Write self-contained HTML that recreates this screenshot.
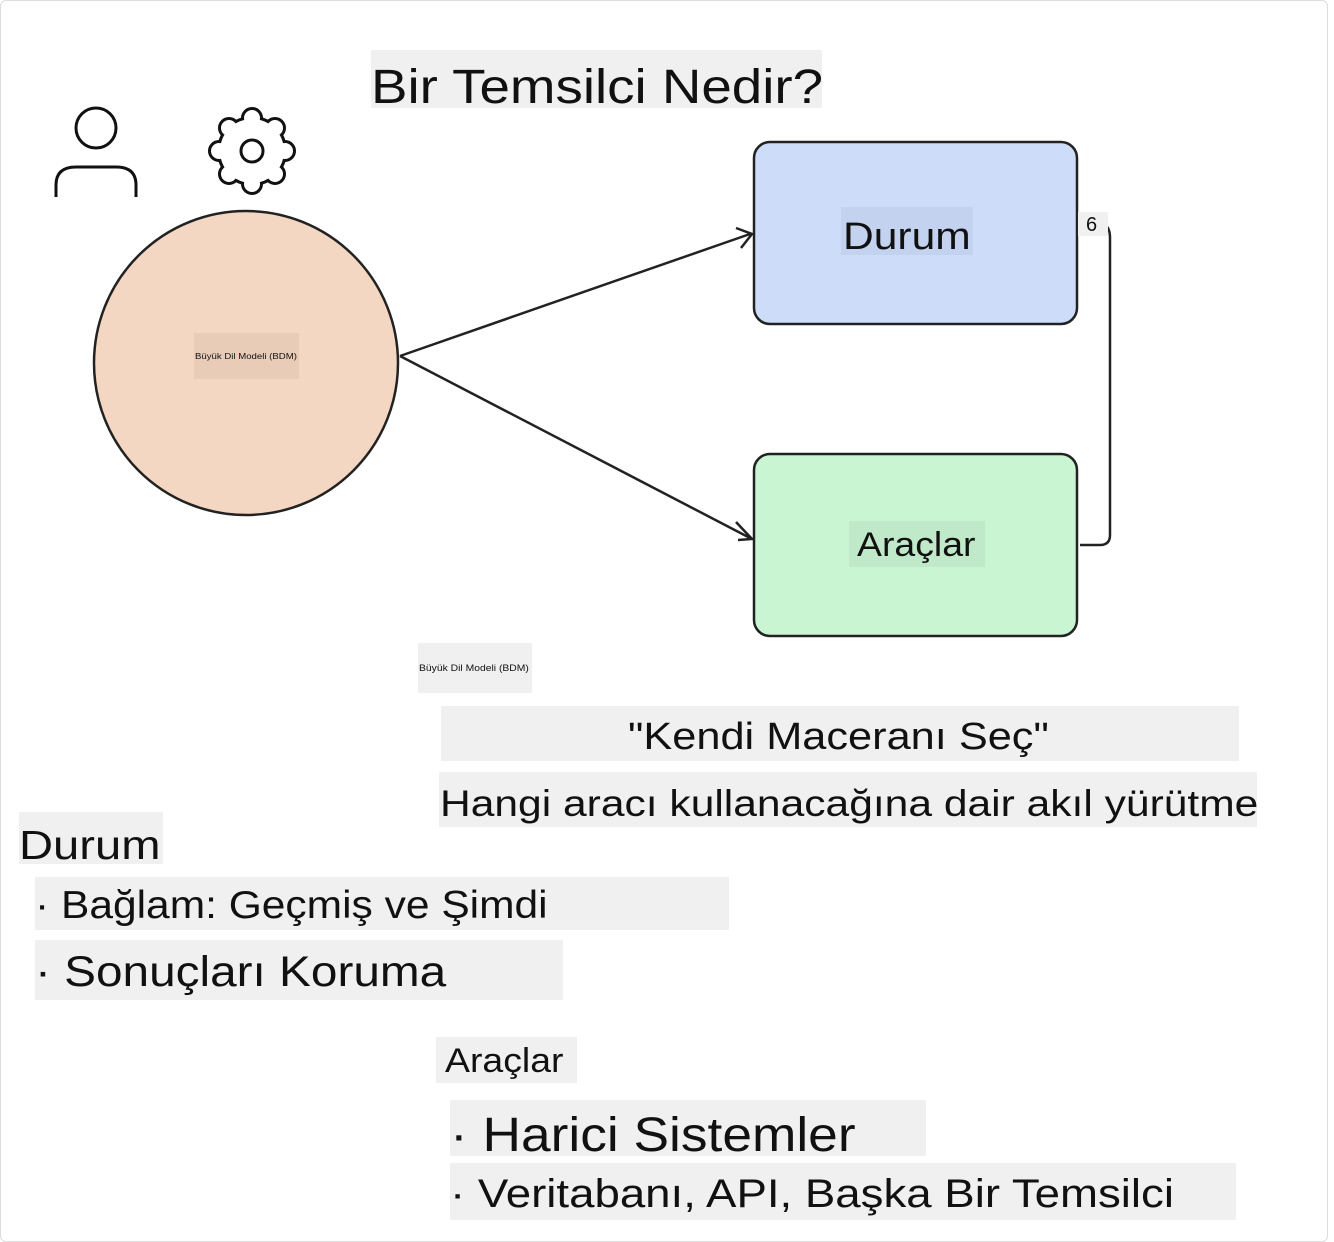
<!DOCTYPE html>
<html><head><meta charset="utf-8"><style>
body{margin:0;width:1334px;height:1242px;background:#fff;position:relative;overflow:hidden;font-family:"Liberation Sans","DejaVu Sans",sans-serif;color:#111}
.t{position:absolute;white-space:nowrap;background:#f0f0f0;line-height:1}
.t span{display:inline-block;transform-origin:0 0}
</style></head><body>
<div style="position:absolute;left:0;top:0;width:1326px;height:1240px;border:1px solid #ddd;border-radius:6px"></div>
<svg width="1334" height="1242" style="position:absolute;left:0;top:0">
<g fill="none" stroke="#111" stroke-width="3">
<circle cx="96" cy="128" r="20"/>
<path d="M56 197 V185 Q56 167 76 167 H116 Q136 167 136 185 V197"/>
</g>
<g stroke="#111" stroke-width="6" fill="#111">
<circle cx="252" cy="151" r="32"/>
<circle cx="252" cy="118" r="8"/><circle cx="252" cy="184" r="8"/>
<circle cx="219" cy="151" r="8"/><circle cx="285" cy="151" r="8"/>
<circle cx="229" cy="128" r="8"/><circle cx="275" cy="128" r="8"/>
<circle cx="229" cy="174" r="8"/><circle cx="275" cy="174" r="8"/>
</g>
<g fill="#fff">
<circle cx="252" cy="151" r="32"/>
<circle cx="252" cy="118" r="8"/><circle cx="252" cy="184" r="8"/>
<circle cx="219" cy="151" r="8"/><circle cx="285" cy="151" r="8"/>
<circle cx="229" cy="128" r="8"/><circle cx="275" cy="128" r="8"/>
<circle cx="229" cy="174" r="8"/><circle cx="275" cy="174" r="8"/>
</g>
<circle cx="252" cy="151" r="11" fill="none" stroke="#111" stroke-width="3"/>
<circle cx="246" cy="363" r="152" fill="#f4d7c2" stroke="#222" stroke-width="2.5"/>
<rect x="754" y="142" width="323" height="182" rx="16" fill="#ccdcf9" stroke="#222" stroke-width="2.5"/>
<rect x="754" y="454" width="323" height="182" rx="16" fill="#c9f5d3" stroke="#222" stroke-width="2.5"/>
<g fill="none" stroke="#222" stroke-width="2.5">
<path d="M400 356 L750 234 M736 228 L752 234 L741 248"/>
<path d="M400 356 L752 539 M736 522 L752 539 L738 540"/>
<path d="M1080 545 H1100 Q1110 545 1110 535 V238 Q1110 228 1105 225"/>
</g>
</svg>
<div class="t" style="left:371px;top:50px;width:451px;height:58px;font-size:48px;padding-top:14px;box-sizing:border-box"><span style="transform:scaleX(1.14)">Bir Temsilci Nedir?</span></div>
<div class="t" style="left:841px;top:207px;width:132px;height:48px;font-size:38px;padding:11px 0 0 2px;box-sizing:border-box;background:#c3d2ee"><span style="transform:scaleX(1.12)">Durum</span></div>
<div class="t" style="left:1078px;top:212px;width:30px;height:24px;font-size:20px;padding:3px 0 0 8px;box-sizing:border-box"><span>6</span></div>
<div class="t" style="left:849px;top:521px;width:136px;height:46px;font-size:34px;padding:7px 0 0 8px;box-sizing:border-box;background:#bfe9c8"><span style="transform:scaleX(1.1)">Araçlar</span></div>
<div class="t" style="left:194px;top:333px;width:105px;height:46px;font-size:8px;padding:20px 0 0 1px;box-sizing:border-box;background:#e8ccb8"><span style="transform:scaleX(1.2)">Büyük Dil Modeli (BDM)</span></div>
<div class="t" style="left:418px;top:643px;width:114px;height:50px;font-size:9px;padding:21px 0 0 1px;box-sizing:border-box"><span style="transform:scaleX(1.15)">Büyük Dil Modeli (BDM)</span></div>
<div class="t" style="left:441px;top:706px;width:798px;height:55px;font-size:38px;padding:12px 0 0 187px;box-sizing:border-box"><span style="transform:scaleX(1.14)">"Kendi Maceranı Seç"</span></div>
<div class="t" style="left:439px;top:772px;width:818px;height:55px;font-size:37px;padding:13px 0 0 1px;box-sizing:border-box"><span style="transform:scaleX(1.15)">Hangi aracı kullanacağına dair akıl yürütme</span></div>
<div class="t" style="left:19px;top:812px;width:144px;height:52px;font-size:41px;padding:13px 0 0 0;box-sizing:border-box"><span style="transform:scaleX(1.15)">Durum</span></div>
<div class="t" style="left:35px;top:877px;width:694px;height:53px;font-size:39px;padding:9px 0 0 0;box-sizing:border-box"><span style="transform:scaleX(1.09)">· Bağlam: Geçmiş ve Şimdi</span></div>
<div class="t" style="left:35px;top:940px;width:528px;height:60px;font-size:43px;padding:11px 0 0 0;box-sizing:border-box"><span style="transform:scaleX(1.11)">· Sonuçları Koruma</span></div>
<div class="t" style="left:436px;top:1037px;width:141px;height:46px;font-size:34px;padding:7px 0 0 9px;box-sizing:border-box"><span style="transform:scaleX(1.1)">Araçlar</span></div>
<div class="t" style="left:450px;top:1100px;width:476px;height:56px;font-size:48px;padding:12px 0 0 0;box-sizing:border-box"><span style="transform:scaleX(1.11)">· Harici Sistemler</span></div>
<div class="t" style="left:450px;top:1163px;width:786px;height:57px;font-size:40px;padding:11px 0 0 0;box-sizing:border-box"><span style="transform:scaleX(1.14)">· Veritabanı, API, Başka Bir Temsilci</span></div>
</body></html>
